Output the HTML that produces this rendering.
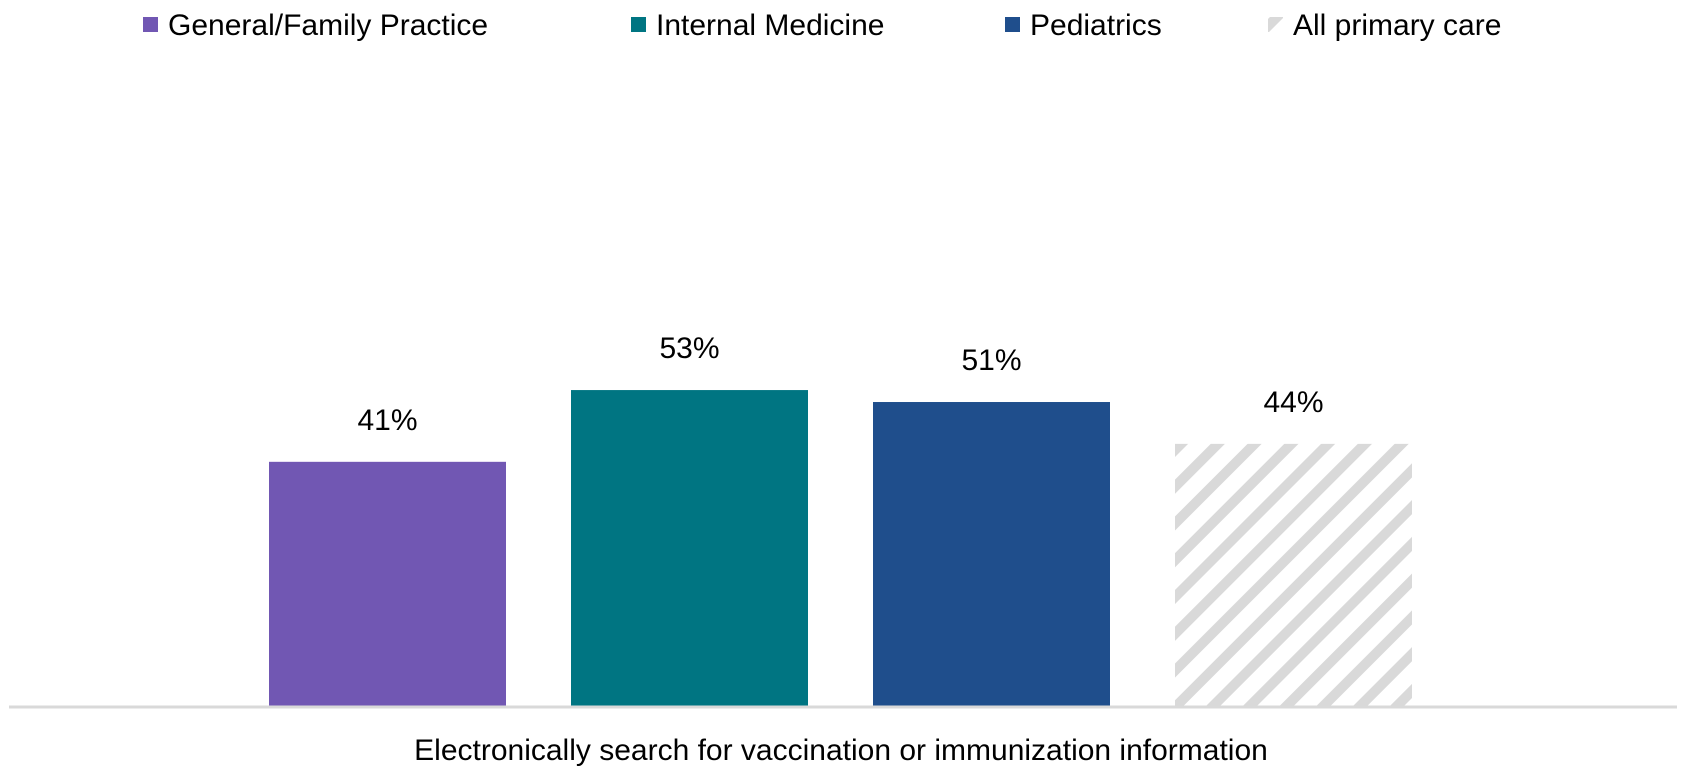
<!DOCTYPE html>
<html><head><meta charset="utf-8"><style>
html,body{margin:0;padding:0;background:#fff;width:1686px;height:775px;overflow:hidden}
svg text{font-family:"Liberation Sans",Arial,sans-serif;fill:#000}
</style></head><body>
<svg id="chart" width="1686" height="775">
<defs>
<pattern id="hatch" width="26" height="26" patternUnits="userSpaceOnUse" patternTransform="rotate(-45)">
<rect width="26" height="26" fill="#fff"/><rect width="26" height="10" fill="#d9d9d9"/>
</pattern>
</defs>
<g id="legend"></g>
<g id="bars"></g>
<line x1="9" y1="707" x2="1677" y2="707" stroke="#d9d9d9" stroke-width="3"/>
<text x="841" y="760" font-size="30" text-anchor="middle">Electronically search for vaccination or immunization information</text>
</svg>
<script>
const series = ["General/Family Practice","Internal Medicine","Pediatrics","All primary care"];
const values = [41,53,51,44];
const labels = ["41%","53%","51%","44%"];
const colors = ["#7157b3","#007582","#1f4e8c","url(#hatch)"];
const legendX = [143,631,1005,1268];
const NS="http://www.w3.org/2000/svg";
const baseY=707, pxPer=5.98, barW=237, x0=269, pitch=302;
function y(v){return baseY - v*pxPer;}
function xb(i){return x0 + i*pitch;}
const bars=document.getElementById('bars');
values.forEach((v,i)=>{
  const r=document.createElementNS(NS,'rect');
  r.setAttribute('x',xb(i));r.setAttribute('y',y(v));
  r.setAttribute('width',barW);r.setAttribute('height',baseY-y(v));
  r.setAttribute('fill',colors[i]);
  
  
  bars.appendChild(r);
  const t=document.createElementNS(NS,'text');
  t.setAttribute('x',xb(i)+barW/2);t.setAttribute('y',y(v)-32);
  t.setAttribute('font-size','30');t.setAttribute('text-anchor','middle');
  t.textContent=labels[i];
  
  
  bars.appendChild(t);
});
const lg=document.getElementById('legend');
series.forEach((s,i)=>{
  const g=document.createElementNS(NS,'g');
  
  
  const r=document.createElementNS(NS,'rect');
  r.setAttribute('x',legendX[i]);r.setAttribute('y',17);
  r.setAttribute('width',15);r.setAttribute('height',15);
  r.setAttribute('fill',colors[i]);
  
  
  g.appendChild(r);
  const t=document.createElementNS(NS,'text');
  t.setAttribute('x',legendX[i]+25);t.setAttribute('y',35);
  t.setAttribute('font-size','30');t.textContent=s;
  
  
  g.appendChild(t);
  lg.appendChild(g);
});
</script>
</body></html>
